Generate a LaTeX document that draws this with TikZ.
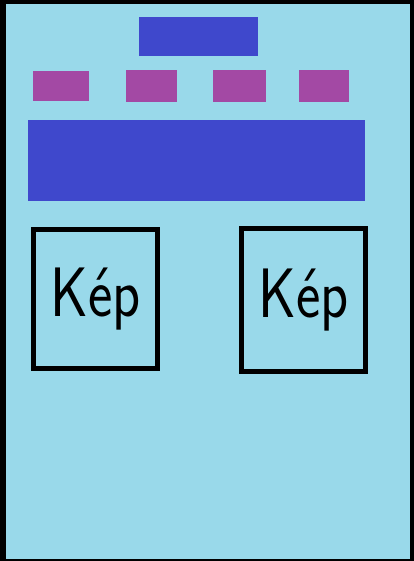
\documentclass[tikz,border=0pt]{standalone}
\usepackage{xcolor}
\usepackage{graphicx}
\usepackage{tikz}

\definecolor{paintsky}{RGB}{153,217,234}
\definecolor{paintblue}{RGB}{63,72,204}
\definecolor{paintpurple}{RGB}{163,73,164}

\begin{document}
\begin{tikzpicture}[
    x=1pt, y=-1pt,
    font=\sffamily,
    frame/.style={
        fill=black,
        inner sep=0pt,
        outer sep=0pt,
        minimum width=414pt,
        minimum height=561pt
    },
    page/.style={
        fill=paintsky,
        inner sep=0pt,
        outer sep=0pt,
        minimum width=404pt,
        minimum height=555pt
    },
    bar/.style={
        fill=paintblue,
        inner sep=0pt,
        outer sep=0pt
    },
    tab/.style={
        fill=paintpurple,
        inner sep=0pt,
        outer sep=0pt,
        minimum height=32pt
    },
    picbox/.style={
        draw=black,
        line width=5pt,
        inner sep=0pt,
        minimum width=124pt,
        font=\sffamily\fontsize{70}{70}\selectfont
    }
]

% --- Frame
\node[frame] (frame) at (207,280.5) {};
\node[page] (page) at (208,281.5) {};

% --- Header
\node[bar, minimum width=119pt, minimum height=39pt] (header) at (198.5,36.5) {};

% --- Menu
\node[tab, minimum width=56pt, minimum height=30pt] (menua) at (61,86) {};
\node[tab, minimum width=51pt] (menub) at (151.5,86) {};
\node[tab, minimum width=53pt] (menuc) at (239.5,86) {};
\node[tab, minimum width=50pt] (menud) at (324,86) {};

% --- Banner
\node[bar, minimum width=337pt, minimum height=81pt] (banner) at (196.5,160.5) {};

% --- Pictures
\node[picbox, minimum height=139pt] (picleft) at (95.5,299) {\scalebox{0.83}[1]{Kép}};
\node[picbox, minimum height=143pt] (picright) at (303.5,300) {\scalebox{0.83}[1]{Kép}};

\end{tikzpicture}
\end{document}
